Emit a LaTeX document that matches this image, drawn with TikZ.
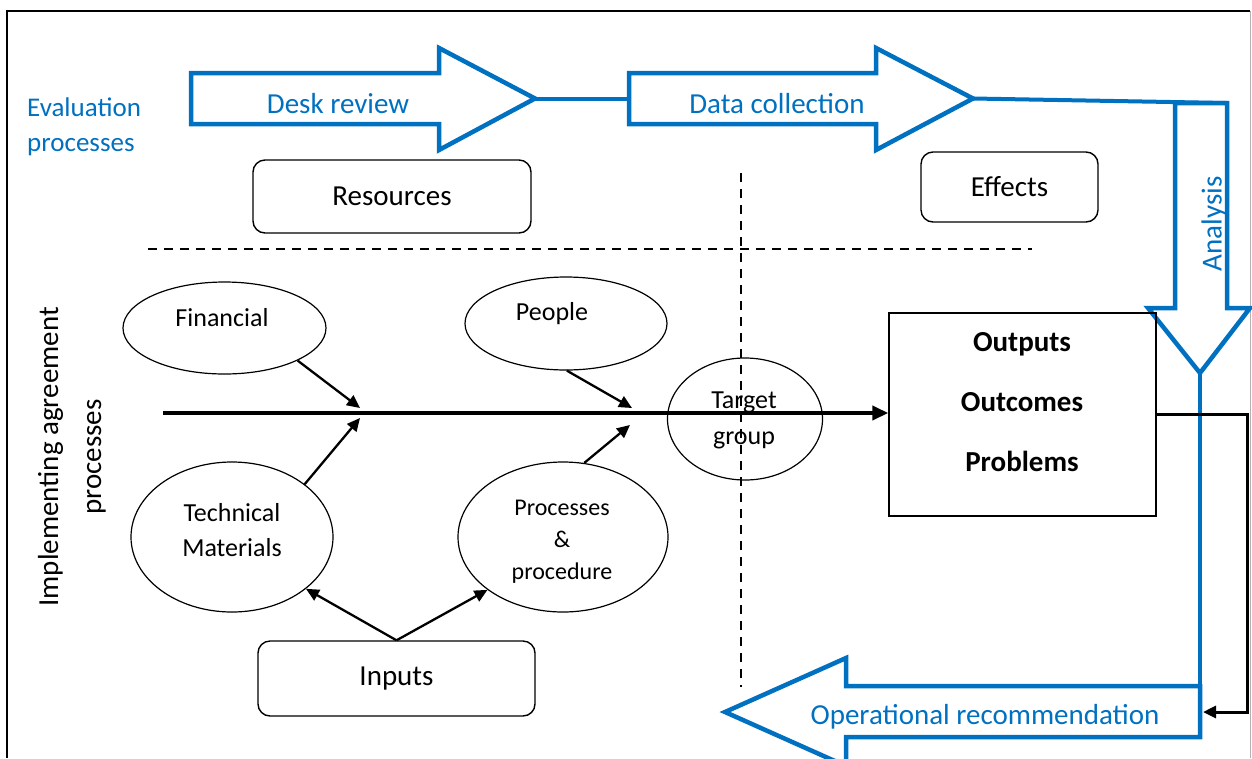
\documentclass[tikz,border=0pt]{standalone}
\usepackage{fontspec}
\setmainfont{Carlito}
\usetikzlibrary{shapes.geometric,arrows.meta}
\definecolor{eblue}{HTML}{0070C0}
\newcommand\myfs[2]{\fontsize{#1}{#2}\selectfont}
\begin{document}
\begin{tikzpicture}[x=1pt,y=-1pt,
 bluearrow/.style={draw=eblue, line width=4.5pt, line join=miter, miter limit=10},
 blueline/.style={draw=eblue, line width=4pt},
 bluetext/.style={text=eblue, inner sep=0pt},
 rbox/.style={draw, rounded corners=12pt, line width=1.4pt, inner sep=0pt},
 ell/.style={draw, ellipse, line width=1.2pt, inner sep=0pt},
 conn/.style={-{Triangle[length=13pt,width=12pt]}, line width=2.3pt},
 lbl/.style={inner sep=0pt, align=center},
 dashline/.style={dash pattern=on 9pt off 7pt, line width=1.4pt}
]
\useasboundingbox (0,0) rectangle (1252,758);
% frame
\draw[line width=1.5pt] (7,758) -- (7,11) -- (1250,11);
\draw[gray!60, line width=1pt] (1250,11) -- (1250,758);

% evaluation label
\node[bluetext, align=left, anchor=west, font={\myfs{27}{35}}] (evl) at (27,127) {Evaluation\\processes};

% blue process arrows
\draw[bluearrow] (191,73) -- (439,73) -- (439,48) -- (535,98.5) -- (439,150) -- (439,124) -- (191,124) -- cycle;
\coordinate (dtip) at (535,98.5);
\node[bluetext, font={\myfs{29}{35}}] (desk) at (338,104) {Desk review};
\draw[bluearrow] (629,73) -- (876,73) -- (876,48) -- (973,98.5) -- (876,150) -- (876,124) -- (629,124) -- cycle;
\coordinate (cleft) at (629,98.5);
\coordinate (ctip) at (973,98.5);
\node[bluetext, font={\myfs{29}{35}}] (data) at (777,104) {Data collection};
\draw[blueline] (dtip) -- (cleft);
\draw[bluearrow] (1175,308) -- (1175,103) -- (1227,103) -- (1227,308) -- (1250,308) -- (1200,373) -- (1148,308) -- cycle;
\coordinate (atr) at (1227,103);
\coordinate (atip) at (1200,373);
\draw[blueline] (ctip) -- (atr);
\node[bluetext, rotate=90, font={\myfs{29}{35}}] (ana) at (1214,224) {Analysis};
\draw[bluearrow] (1200,686) -- (846,686) -- (846,658) -- (725,712) -- (846,766) -- (846,737) -- (1200,737) -- cycle;
\coordinate (obr) at (1200,737);
\coordinate (oright) at (1203,712);
\node[bluetext, font={\myfs{29}{35}}] (oprt) at (985,717) {Operational recommendation};
\draw[blueline] (atip) -- (obr);

% boxes
\node[rbox, minimum width=278pt, minimum height=73pt, font={\myfs{29}{35}}] (res) at (392,196.5) {Resources};
\node[rbox, minimum width=177pt, minimum height=70pt, font={\myfs{29}{35}}] (eff) at (1009.5,187) {Effects};
\node[rbox, minimum width=277pt, minimum height=75pt, font={\myfs{29}{35}}] (inp) at (396.5,678.5) {Inputs};

% dashed separators
\draw[dashline] (148,249) -- (1032,249);
\draw[dashline] (741,173) -- (741,687);

% left label
\node[lbl, rotate=90, font={\myfs{29}{43}}] (impl) at (72,457) {Implementing agreement\\processes};

% ellipses
\node[ell, minimum width=203pt, minimum height=92pt] (fin) at (224.5,328) {};
\node[lbl, font={\myfs{26}{32}}] (fint) at (222,318) {Financial};
\node[ell, minimum width=202pt, minimum height=93pt] (peo) at (566,323.5) {};
\node[lbl, font={\myfs{26}{32}}] (peot) at (552,314) {People};
\node[ell, minimum width=202pt, minimum height=150pt] (tec) at (232,537) {};
\node[lbl, font={\myfs{26}{35}}] (tect) at (232,530) {Technical\\Materials};
\node[ell, minimum width=210pt, minimum height=150pt] (pro) at (563,537) {};
\node[lbl, font={\myfs{24}{32}}] (prot) at (562,542) {Processes\\\&\\procedure};
\node[ell, minimum width=155pt, minimum height=122pt] (tar) at (745,419) {};
\node[lbl, font={\myfs{26}{36}}] (tart) at (744,420) {Target\\group};

% outputs box
\node[draw, line width=1.4pt, minimum width=267pt, minimum height=203pt, inner sep=0pt] (out) at (1022.5,414.5) {};
\node[lbl, font={\myfs{29}{60}\bfseries}] (outt) at (1022,402) {Outputs\\Outcomes\\Problems};

% main spine
\coordinate (ms) at (163,413);
\draw[line width=3.8pt, -{Triangle[length=16pt,width=14pt]}] (ms) -- (ms -| out.west);

% branch arrows
\coordinate (j1) at (360,408);
\coordinate (j2) at (360,418);
\coordinate (j3) at (632,408);
\coordinate (j4) at (630,425);
\draw[conn] (fin.-24) -- (j1);
\draw[conn] (tec.36) -- (j2);
\draw[conn] (peo.-89) -- (j3);
\draw[conn] (pro.74) -- (j4);
\draw[conn] (inp.north) -- (tec.-35);
\draw[conn] (inp.north) -- (pro.215);

% feedback connector
\coordinate (fb) at (1247,712);
\draw[conn, line width=3pt] (out.east) -- (out.east -| fb) -- (fb) -- (oright);
\end{tikzpicture}
\end{document}
